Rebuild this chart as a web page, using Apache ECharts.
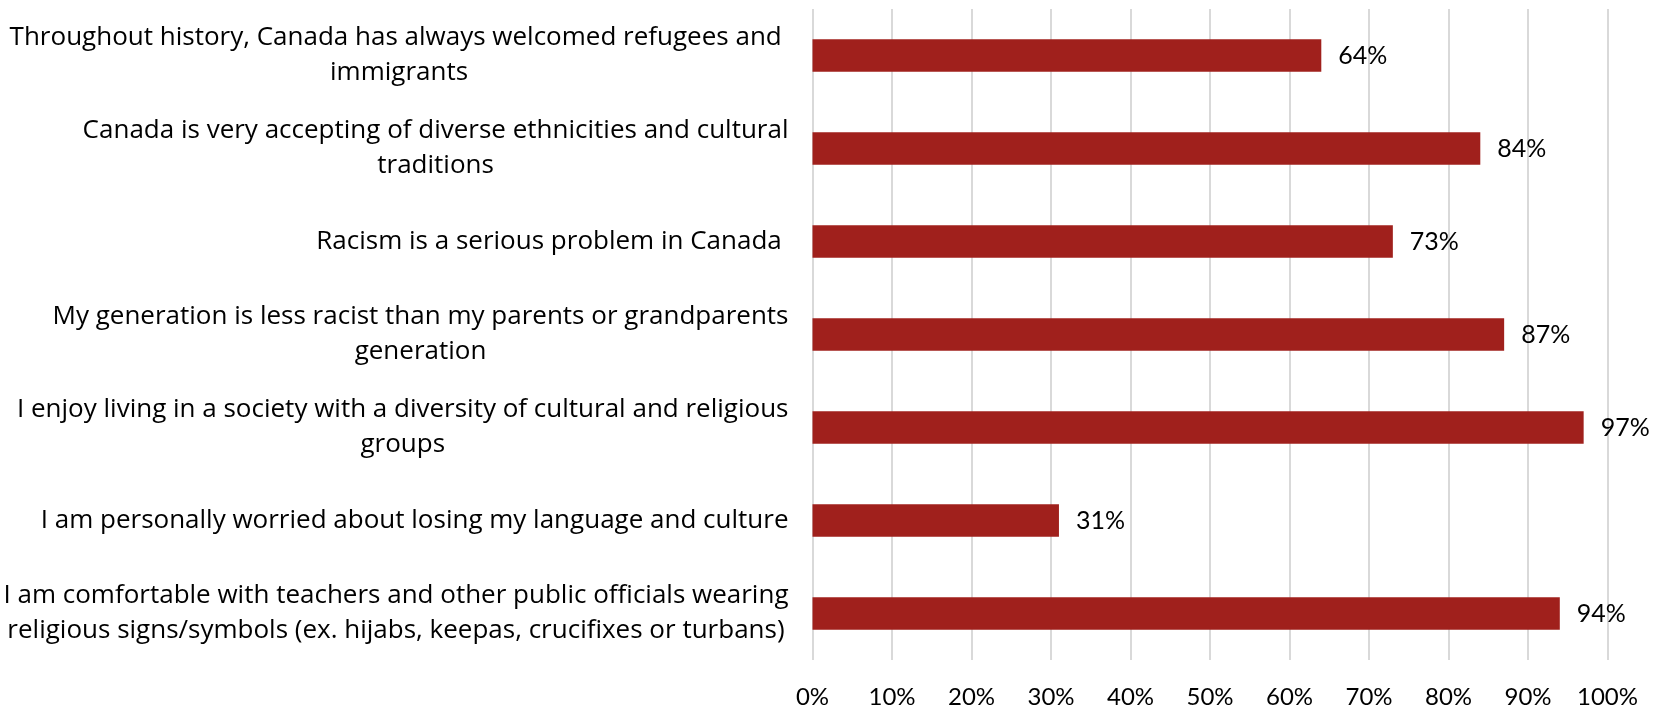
<!DOCTYPE html>
<html>
<head>
<meta charset="utf-8">
<script src="https://cdn.jsdelivr.net/npm/echarts@6/dist/echarts.min.js"></script>
<style>
  html, body { margin: 0; padding: 0; background: #ffffff; }
  #chart { width: 1671px; height: 709px; }
</style>
</head>
<body>
<div id="chart"></div>
<script>
// Survey statements (top to bottom) and share agreeing, in percent
const statements = [
  'Throughout history, Canada has always welcomed refugees and \nimmigrants',
  'Canada is very accepting of diverse ethnicities and cultural\ntraditions',
  'Racism is a serious problem in Canada ',
  'My generation is less racist than my parents or grandparents\ngeneration',
  'I enjoy living in a society with a diversity of cultural and religious\ngroups',
  'I am personally worried about losing my language and culture',
  'I am comfortable with teachers and other public officials wearing\nreligious signs/symbols (ex. hijabs, keepas, crucifixes or turbans)'
];
const agreePct = [64, 84, 73, 87, 97, 31, 94];
const xTicks = [0, 10, 20, 30, 40, 50, 60, 70, 80, 90, 100];

const FONT = 'Lato, "Open Sans", sans-serif';
const CAT_FONT = '"Open Sans", Lato, sans-serif';
const BAR_COLOR = '#A0201C';

const chart = echarts.init(document.getElementById('chart'), null, { renderer: 'canvas' });

chart.setOption({
  animation: false,
  backgroundColor: '#ffffff',
  grid: { left: 812.5, right: 63.5, top: 9, bottom: 48, containLabel: false },
  xAxis: {
    type: 'value',
    min: xTicks[0],
    max: xTicks[xTicks.length - 1],
    interval: xTicks[1] - xTicks[0],
    axisLine: { show: false },
    axisTick: { show: false },
    splitLine: { show: true, lineStyle: { color: '#d9d9d9', width: 2 } },
    axisLabel: {
      formatter: v => v + '%',
      fontFamily: FONT, fontSize: 24, color: '#000000', margin: 25
    }
  },
  yAxis: {
    type: 'category',
    inverse: true,
    data: statements,
    axisLine: { show: false },
    axisTick: { show: false },
    axisLabel: {
      margin: 24,
      fontFamily: CAT_FONT, fontSize: 26, color: '#000000', lineHeight: 35,
      formatter: s => s.split('\n').map(l => '{c|' + l + '}').join('\n'),
      rich: { c: { align: 'center', fontFamily: CAT_FONT, fontSize: 26, lineHeight: 35, color: '#000000' } }
    }
  },
  series: [{
    type: 'bar',
    data: agreePct,
    barCategoryGap: '65%',
    itemStyle: { color: BAR_COLOR },
    label: {
      show: true,
      position: 'right',
      distance: 17,
      formatter: p => p.value + '%',
      fontFamily: FONT, fontSize: 25, color: '#000000'
    }
  }]
});
</script>
</body>
</html>
